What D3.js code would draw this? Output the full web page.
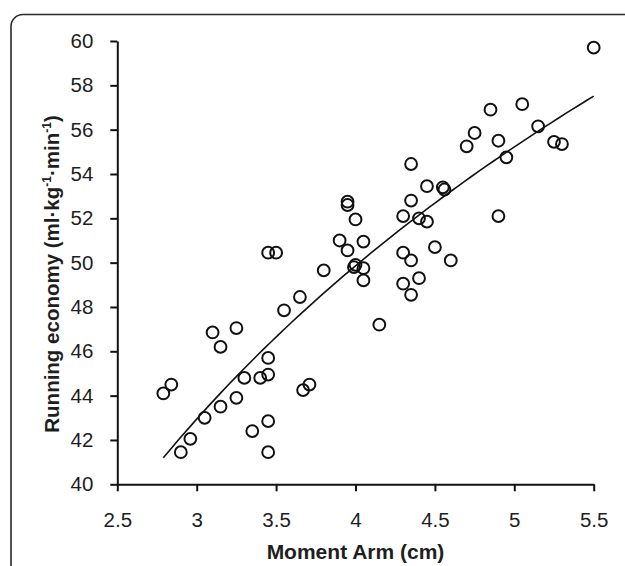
<!DOCTYPE html>
<html>
<head>
<meta charset="utf-8">
<script src="https://cdn.jsdelivr.net/npm/d3@7"></script>
<style>
  html, body { margin: 0; padding: 0; background: #fff; }
  svg { display: block; }
  text { font-family: "Liberation Sans", Arial, sans-serif; fill: #1e1e1e; }
</style>
</head>
<body>
<svg id="chart" width="625" height="566"></svg>
<script>
// Moment arm (cm) of each runner
const momentArm = [
  2.79, 2.84, 2.90, 2.96, 3.05, 3.10, 3.15, 3.15, 3.25, 3.25,
  3.30, 3.35, 3.40, 3.45, 3.45, 3.45, 3.45, 3.45, 3.50, 3.55,
  3.65, 3.67, 3.71, 3.80, 3.90, 3.95, 3.95, 3.95, 4.00, 3.99,
  4.00, 4.05, 4.05, 4.05, 4.15, 4.30, 4.30, 4.30, 4.35, 4.35,
  4.35, 4.35, 4.40, 4.45, 4.40, 4.45, 4.50, 4.55, 4.56, 4.60,
  4.70, 4.75, 4.85, 4.90, 4.90, 4.95, 5.05, 5.15, 5.25, 5.30,
  5.50
];
// Running economy (ml·kg-1·min-1) of the same runners
const runningEconomy = [
  44.10, 44.50, 41.45, 42.05, 43.00, 46.85, 46.20, 43.50, 47.05, 43.90,
  44.80, 42.40, 44.80, 44.95, 45.70, 42.85, 41.45, 50.45, 50.45, 47.85,
  48.45, 44.25, 44.50, 49.65, 51.00, 50.55, 52.75, 52.60, 51.95, 49.80,
  49.90, 49.75, 50.95, 49.20, 47.20, 52.10, 50.45, 49.05, 54.45, 52.80,
  50.10, 48.55, 52.00, 51.85, 49.30, 53.45, 50.70, 53.40, 53.30, 50.10,
  55.25, 55.85, 56.90, 55.50, 52.10, 54.75, 57.15, 56.15, 55.45, 55.35,
  59.70
];
// Logarithmic trendline: y = a + b * ln(x)
const trendCoef = [16.53, 24.04];

const xTicks = [2.5, 3, 3.5, 4, 4.5, 5, 5.5];
const yTicks = [40, 42, 44, 46, 48, 50, 52, 54, 56, 58, 60];
const xTitle = "Moment Arm (cm)";

const svg = d3.select("#chart");
const plotLeft = 117.3, plotRight = 593.7, plotTop = 41, plotBottom = 484.3;

const x = d3.scaleLinear().domain([2.5, 5.5]).range([plotLeft, plotRight]);
const y = d3.scaleLinear().domain([40, 60]).range([plotBottom, plotTop]);

// rounded panel frame
svg.append("rect")
  .attr("x", 11).attr("y", 14.5)
  .attr("width", 640).attr("height", 600)
  .attr("rx", 12).attr("ry", 12)
  .attr("fill", "none")
  .attr("stroke", "#2a2a2a")
  .attr("stroke-width", 1.6);

// axes
const xAxis = d3.axisBottom(x).tickValues(xTicks)
  .tickFormat(d3.format("~g"))
  .tickSizeInner(7).tickSizeOuter(0).tickPadding(21);
const yAxis = d3.axisLeft(y).tickValues(yTicks)
  .tickFormat(d3.format("d"))
  .tickSizeInner(7).tickSizeOuter(0).tickPadding(17);

const gx = svg.append("g").attr("transform", `translate(0,${plotBottom})`).call(xAxis);
const gy = svg.append("g").attr("transform", `translate(${plotLeft},0)`).call(yAxis);

[gx, gy].forEach(g => {
  g.select(".domain").attr("stroke", "#111").attr("stroke-width", 2);
  g.selectAll(".tick line").attr("stroke", "#111").attr("stroke-width", 2);
  g.selectAll(".tick text")
    .attr("font-family", "'Liberation Sans', Arial, sans-serif")
    .attr("font-size", 20.5)
    .attr("fill", "#1e1e1e");
});

// trendline over the range of the data
const xMin = d3.min(momentArm), xMax = d3.max(momentArm);
const trendX = d3.range(0, 61).map(i => xMin + (xMax - xMin) * i / 60);
const line = d3.line()
  .x(d => x(d))
  .y(d => y(trendCoef[0] + trendCoef[1] * Math.log(d)));
svg.append("path")
  .datum(trendX)
  .attr("d", line)
  .attr("fill", "none")
  .attr("stroke", "#111")
  .attr("stroke-width", 1.6);

// data points
svg.append("g")
  .selectAll("circle")
  .data(d3.zip(momentArm, runningEconomy))
  .join("circle")
  .attr("cx", d => x(d[0]))
  .attr("cy", d => y(d[1]))
  .attr("r", 5.9)
  .attr("fill", "none")
  .attr("stroke", "#111")
  .attr("stroke-width", 2);

// axis titles
svg.append("text")
  .attr("x", (plotLeft + plotRight) / 2)
  .attr("y", 559)
  .attr("text-anchor", "middle")
  .attr("font-size", 21)
  .attr("font-weight", "bold")
  .text(xTitle);

const yTitle = svg.append("text")
  .attr("transform", "translate(59,274) rotate(-90)")
  .attr("text-anchor", "middle")
  .attr("font-size", 20.5)
  .attr("font-weight", "bold");
yTitle.append("tspan").text("Running economy (ml\u00B7kg");
yTitle.append("tspan").attr("font-size", 12).attr("dy", -8).text("-1");
yTitle.append("tspan").attr("dy", 8).text("\u00B7min");
yTitle.append("tspan").attr("font-size", 12).attr("dy", -8).text("-1");
yTitle.append("tspan").attr("dy", 8).text(")");
</script>
</body>
</html>
